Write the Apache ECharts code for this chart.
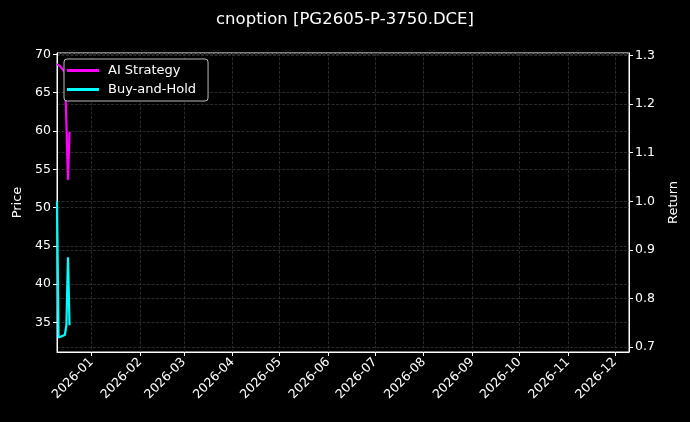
<!DOCTYPE html>
<html>
<head>
<meta charset="utf-8">
<script src="https://cdn.jsdelivr.net/npm/echarts@6/dist/echarts.min.js"></script>
<style>
html,body{margin:0;padding:0;background:#000;}
#chart{width:690px;height:422px;}
</style>
</head>
<body>
<div id="chart"></div>
<script>
const titleText = 'cnoption [PG2605-P-3750.DCE]';
const dates = ['2025-12-10','2025-12-11','2025-12-12','2025-12-15','2025-12-16','2025-12-17','2025-12-18'];
const aiStrategy = [1.282, 1.283, 1.278, 1.265, 1.16, 1.044, 1.143];
const buyHold = [1.0, 0.72, 0.72, 0.725, 0.745, 0.885, 0.745];
const xMin = '2025-12-10';
const xMax = '2026-12-10';

const font = 'DejaVu Sans';
const gridLine = {show: true, lineStyle: {color: '#333', width: 0.8, type: [3, 1.5]}};
const chart = echarts.init(document.getElementById('chart'));
function pairs(vals){ return dates.map((d,i)=>[d, vals[i]]); }

chart.setOption({
  backgroundColor: '#000',
  animation: false,
  textStyle: {fontFamily: font},
  title: {text: titleText, left: 'center', top: 6,
    textStyle: {color: '#fff', fontSize: 16.5, fontWeight: 'normal', fontFamily: font}},
  grid: {left: 57, right: 61, top: 53, bottom: 70, show: true, borderColor: '#fff', borderWidth: 1, containLabel: false},
  legend: {
    orient: 'vertical', left: 64, top: 59,
    backgroundColor: '#000', borderColor: '#bbb', borderWidth: 1, borderRadius: 3,
    padding: [5, 12, 5, 3], itemGap: 6, itemWidth: 32, itemHeight: 3, icon: 'rect',
    textStyle: {color: '#fff', fontSize: 13, fontFamily: font, padding: [0,0,0,4]},
    data: ['AI Strategy', 'Buy-and-Hold']
  },
  xAxis: {
    type: 'time', min: xMin, max: xMax, splitNumber: 12,
    minInterval: 28*86400000,
    axisLine: {lineStyle: {color: '#fff'}},
    axisTick: {lineStyle: {color: '#fff'}, length: 4},
    axisLabel: {color: '#fff', fontSize: 12.5, rotate: 45, fontFamily: font, showMinLabel: false, showMaxLabel: false, margin: 8,
      formatter: v => { const d = new Date(v); return d.getFullYear() + '-' + String(d.getMonth()+1).padStart(2,'0'); }},
    splitLine: gridLine
  },
  yAxis: [
    {type: 'value', min: 31.16, max: 70.17, splitNumber: 8, position: 'left',
      name: 'Price', nameLocation: 'middle', nameRotate: 90, nameGap: 33,
      nameTextStyle: {color: '#fff', fontSize: 13, fontFamily: font},
      axisLine: {show: true, lineStyle: {color: '#fff'}},
      axisTick: {show: true, lineStyle: {color: '#fff'}, length: 4},
      axisLabel: {color: '#fff', fontSize: 12.5, fontFamily: font, showMinLabel: false, showMaxLabel: false, margin: 6},
      splitLine: gridLine},
    {type: 'value', min: 0.69, max: 1.305, splitNumber: 6, position: 'right',
      name: 'Return', nameLocation: 'middle', nameRotate: 90, nameGap: 38,
      nameTextStyle: {color: '#fff', fontSize: 13, fontFamily: font},
      axisLine: {show: true, lineStyle: {color: '#fff'}},
      axisTick: {show: true, lineStyle: {color: '#fff'}, length: 4},
      axisLabel: {color: '#fff', fontSize: 12.5, fontFamily: font, showMinLabel: false, showMaxLabel: false, margin: 6,
        formatter: v => v.toFixed(1)},
      splitLine: gridLine}
  ],
  series: [
    {name: 'AI Strategy', type: 'line', yAxisIndex: 1, data: pairs(aiStrategy), showSymbol: false,
      itemStyle: {color: '#ff00ff'}, lineStyle: {color: '#ff00ff', width: 2.2}},
    {name: 'Buy-and-Hold', type: 'line', yAxisIndex: 1, data: pairs(buyHold), showSymbol: false,
      itemStyle: {color: '#00ffff'}, lineStyle: {color: '#00ffff', width: 2.2}}
  ]
});
</script>
</body>
</html>
